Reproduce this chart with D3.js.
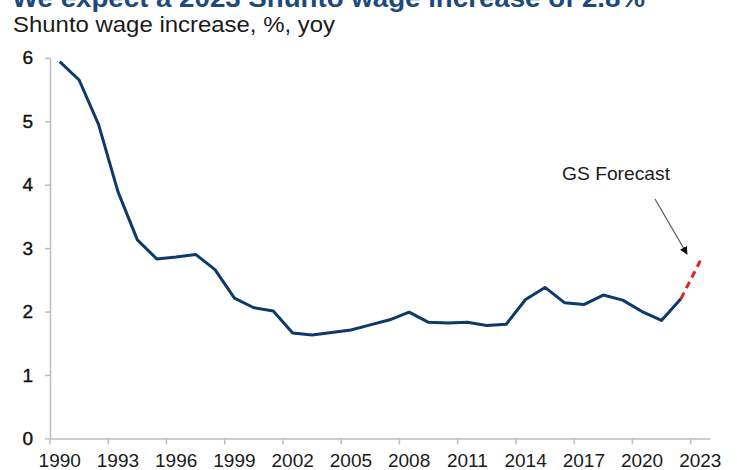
<!DOCTYPE html>
<html>
<head>
<meta charset="utf-8">
<script src="https://cdn.jsdelivr.net/npm/d3@7"></script>
<style>
  html, body { margin: 0; padding: 0; background: #fff; }
  svg { display: block; }
  text { font-family: "Liberation Sans", Arial, Helvetica, sans-serif; }
</style>
</head>
<body>
<svg id="chart" width="737" height="470"></svg>
<script>
// ---- data ----
const years = [1990,1991,1992,1993,1994,1995,1996,1997,1998,1999,2000,2001,2002,2003,2004,2005,2006,2007,2008,2009,2010,2011,2012,2013,2014,2015,2016,2017,2018,2019,2020,2021,2022,2023];
const actualYears = [1990,1991,1992,1993,1994,1995,1996,1997,1998,1999,2000,2001,2002,2003,2004,2005,2006,2007,2008,2009,2010,2011,2012,2013,2014,2015,2016,2017,2018,2019,2020,2021,2022];
const actualValues = [5.94,5.65,4.95,3.89,3.13,2.83,2.86,2.90,2.66,2.21,2.06,2.01,1.66,1.63,1.67,1.71,1.79,1.87,1.99,1.83,1.82,1.83,1.78,1.80,2.19,2.38,2.14,2.11,2.26,2.18,2.00,1.86,2.20];
const forecastYears = [2022, 2023];
const forecastValues = [2.20, 2.80];
const xTickYears = [1990,1993,1996,1999,2002,2005,2008,2011,2014,2017,2020,2023];
const yTickValues = [0,1,2,3,4,5,6];
const titleText = "We expect a 2023 Shunto wage increase of 2.8%";
const subtitleText = "Shunto wage increase, %, yoy";
const annotationText = "GS Forecast";

// ---- layout ----
const svg = d3.select("#chart");
const x = d3.scaleBand().domain(years).range([50, 710]).paddingInner(0).paddingOuter(0);
const y = d3.scaleLinear().domain([0, 6]).range([438.4, 57.8]);
const cx = d => x(d) + x.bandwidth() / 2;

// title (cut off at top, as in the reference) and subtitle
svg.append("text")
  .attr("x", 12).attr("y", 7)
  .attr("font-size", 25).attr("font-weight", "bold")
  .attr("fill", "#1d4a7c")
  .attr("textLength", 633).attr("lengthAdjust", "spacingAndGlyphs")
  .text(titleText);

svg.append("text")
  .attr("x", 13).attr("y", 32)
  .attr("font-size", 22).attr("fill", "#1a1a1a")
  .attr("textLength", 322).attr("lengthAdjust", "spacingAndGlyphs")
  .text(subtitleText);

// y axis
const yAxis = svg.append("g")
  .attr("transform", "translate(50,0)")
  .call(d3.axisLeft(y).tickValues(yTickValues).tickFormat(d3.format("d")).tickSize(5).tickSizeOuter(0));
yAxis.select(".domain").attr("stroke", "#bdbdbd").attr("stroke-width", 1.5);
yAxis.selectAll(".tick line").attr("stroke", "#bdbdbd").attr("stroke-width", 1.5);
yAxis.selectAll(".tick text")
  .attr("x", -17)
  .attr("font-size", 19)
  .attr("fill", "#111")
  .attr("stroke", "#111").attr("stroke-width", 0.4)
  .attr("font-family", "Liberation Sans, Arial, sans-serif");

// x axis
const xAxis = svg.append("g")
  .attr("transform", "translate(0,438.4)")
  .call(d3.axisBottom(x).tickValues(xTickYears).tickSize(6).tickSizeOuter(0));
xAxis.select(".domain").attr("stroke", "#bdbdbd").attr("stroke-width", 1.5);
xAxis.selectAll(".tick line")
  .attr("stroke", "#bdbdbd").attr("stroke-width", 1.5)
  .attr("x1", -x.bandwidth() / 2).attr("x2", -x.bandwidth() / 2);
xAxis.selectAll(".tick text")
  .attr("y", 15)
  .attr("font-size", 19)
  .attr("fill", "#1a1a1a")
  .attr("font-family", "Liberation Sans, Arial, sans-serif");

// lines
const line = d3.line().x(d => cx(d[0])).y(d => y(d[1]));
svg.append("path")
  .datum(actualYears.map((yr, i) => [yr, actualValues[i]]))
  .attr("d", line)
  .attr("fill", "none").attr("stroke", "#0d3a6a")
  .attr("stroke-width", 3).attr("stroke-linejoin", "round");

svg.append("path")
  .datum(forecastYears.map((yr, i) => [yr, forecastValues[i]]))
  .attr("d", line)
  .attr("fill", "none").attr("stroke", "#e0202a")
  .attr("stroke-width", 3).attr("stroke-dasharray", "7,5");

// annotation
svg.append("defs").append("marker")
  .attr("id", "arrow").attr("viewBox", "0 0 10 10")
  .attr("refX", 9).attr("refY", 5)
  .attr("markerWidth", 8).attr("markerHeight", 8)
  .attr("markerUnits", "userSpaceOnUse")
  .attr("orient", "auto")
  .append("path").attr("d", "M0,0 L10,5 L0,10 z").attr("fill", "#111");

svg.append("text")
  .attr("x", 562).attr("y", 180)
  .attr("font-size", 18.5).attr("fill", "#1a1a1a")
  .attr("textLength", 108).attr("lengthAdjust", "spacingAndGlyphs")
  .text(annotationText);

svg.append("line")
  .attr("x1", 655).attr("y1", 199)
  .attr("x2", 687).attr("y2", 254)
  .attr("stroke", "#555").attr("stroke-width", 1.2)
  .attr("marker-end", "url(#arrow)");
</script>
</body>
</html>
